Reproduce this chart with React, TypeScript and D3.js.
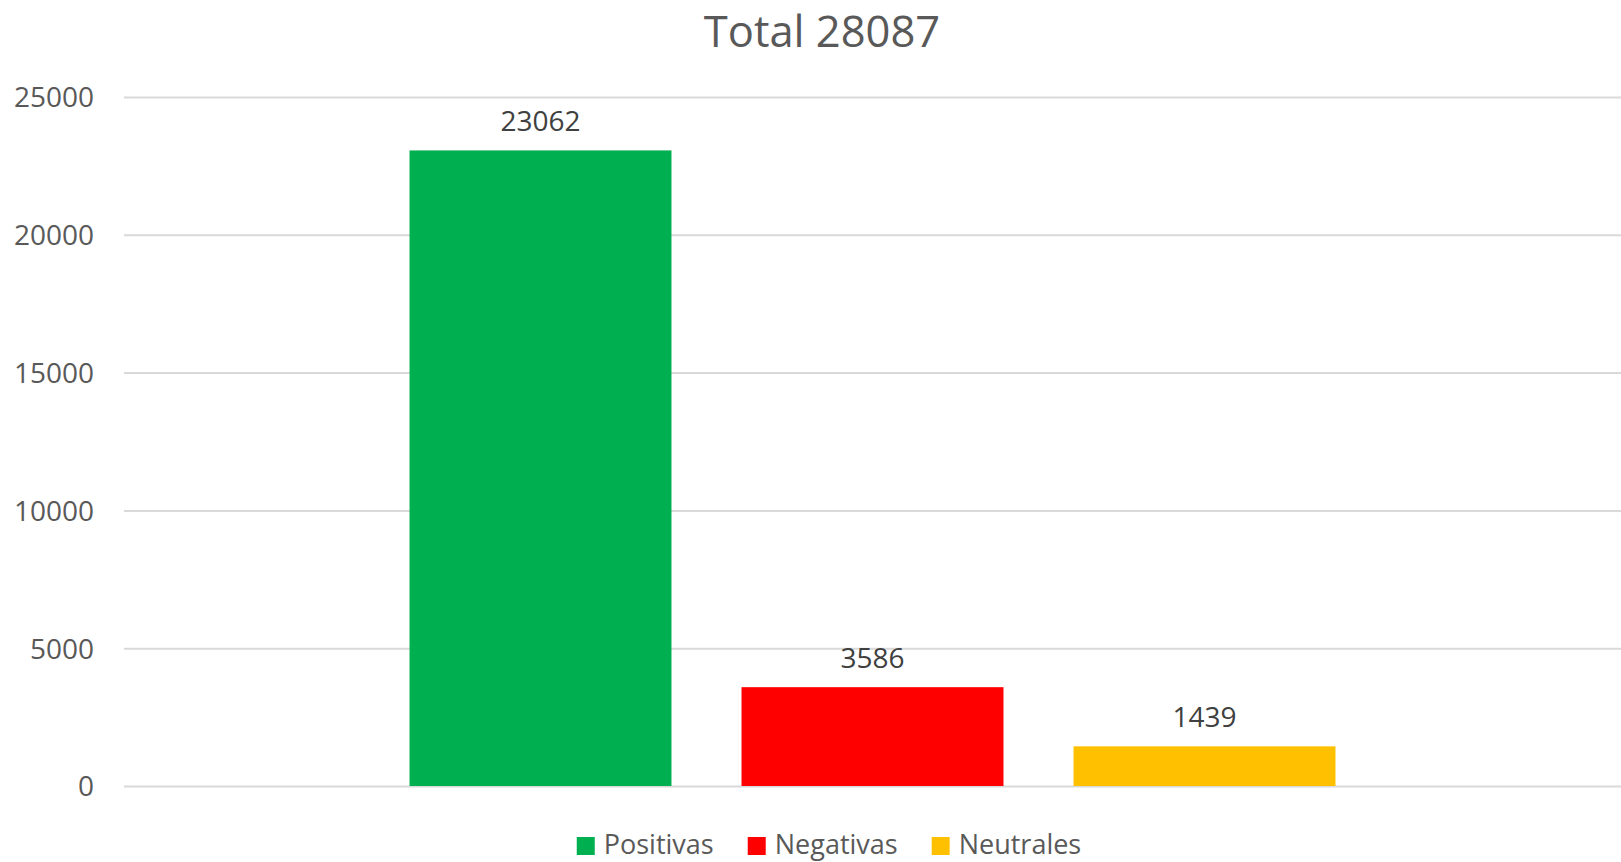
import React, { useEffect, useRef } from 'react';
import * as d3 from 'd3';

const categories = ['Positivas', 'Negativas', 'Neutrales'];
const values = [23062, 3586, 1439];
const colors = ['#00B050', '#FF0000', '#FFC000'];
const yTicks = [0, 5000, 10000, 15000, 20000, 25000];
const title = 'Total 28087';

const W = 1621;
const H = 862;
const FONT = '"Open Sans", "Noto Sans", sans-serif';

const App = () => {
  const svgRef = useRef<SVGSVGElement>(null);

  useEffect(() => {
    const svg = d3.select(svgRef.current);
    svg.selectAll('*').remove();

    const margin = { top: 97, right: 0, bottom: 76, left: 124 };

    const x = d3.scaleBand()
      .domain(categories)
      .range([margin.left, W - margin.right])
      .paddingInner(0.211)
      .paddingOuter(0.86);

    const y = d3.scaleLinear()
      .domain([0, 25000])
      .range([H - margin.bottom, margin.top]);

    // title
    svg.append('text')
      .attr('x', 822)
      .attr('y', 47)
      .attr('text-anchor', 'middle')
      .attr('font-family', FONT)
      .attr('font-size', 43.5)
      .attr('fill', '#595959')
      .text(title);

    // y axis with gridlines
    svg.append('g')
      .attr('transform', `translate(${margin.left},0)`)
      .call(d3.axisLeft(y)
        .tickValues(yTicks)
        .tickFormat(d3.format('d'))
        .tickSize(-(W - margin.left - margin.right))
        .tickPadding(30))
      .call(g => g.select('.domain').remove())
      .call(g => g.selectAll('.tick line').attr('stroke', '#d9d9d9').attr('stroke-width', 2))
      .call(g => g.selectAll('.tick text')
        .attr('font-family', FONT)
        .attr('font-size', 28)
        .attr('fill', '#595959')
        .attr('dy', '0.35em'));

    // bars
    svg.append('g')
      .selectAll('rect')
      .data(values)
      .join('rect')
      .attr('x', (_, i) => x(categories[i])!)
      .attr('width', x.bandwidth())
      .attr('y', d => y(d))
      .attr('height', d => y(0) - y(d))
      .attr('fill', (_, i) => colors[i]);

    // data labels
    svg.append('g')
      .selectAll('text')
      .data(values)
      .join('text')
      .attr('x', (_, i) => x(categories[i])! + x.bandwidth() / 2)
      .attr('y', d => y(d) - 19)
      .attr('text-anchor', 'middle')
      .attr('font-family', FONT)
      .attr('font-size', 28)
      .attr('fill', '#404040')
      .text(d => String(d));

    // legend
    const legend = svg.append('g');
    const items = legend.selectAll('g')
      .data(categories)
      .join('g');
    items.append('rect')
      .attr('width', 18)
      .attr('height', 18)
      .attr('y', 837)
      .attr('fill', (_, i) => colors[i]);
    items.append('text')
      .attr('x', 27)
      .attr('y', 854)
      .attr('font-family', FONT)
      .attr('font-size', 27)
      .attr('fill', '#595959')
      .text(d => d);

    let offset = 0;
    const widths: number[] = [];
    items.each(function () {
      const t = d3.select(this).select('text').node() as SVGTextElement;
      widths.push(27 + t.getComputedTextLength());
    });
    const gap = 34;
    const total = d3.sum(widths) + gap * (widths.length - 1);
    const startX = 829 - total / 2;
    items.attr('transform', (_, i) => {
      const tx = startX + offset;
      offset += widths[i] + gap;
      return `translate(${tx},0)`;
    });
  }, []);

  return (
    <div style={{ position: 'fixed', left: 0, top: 0, width: W, height: H, background: '#fff' }}>
      <svg ref={svgRef} width={W} height={H}></svg>
    </div>
  );
};

export default App;
